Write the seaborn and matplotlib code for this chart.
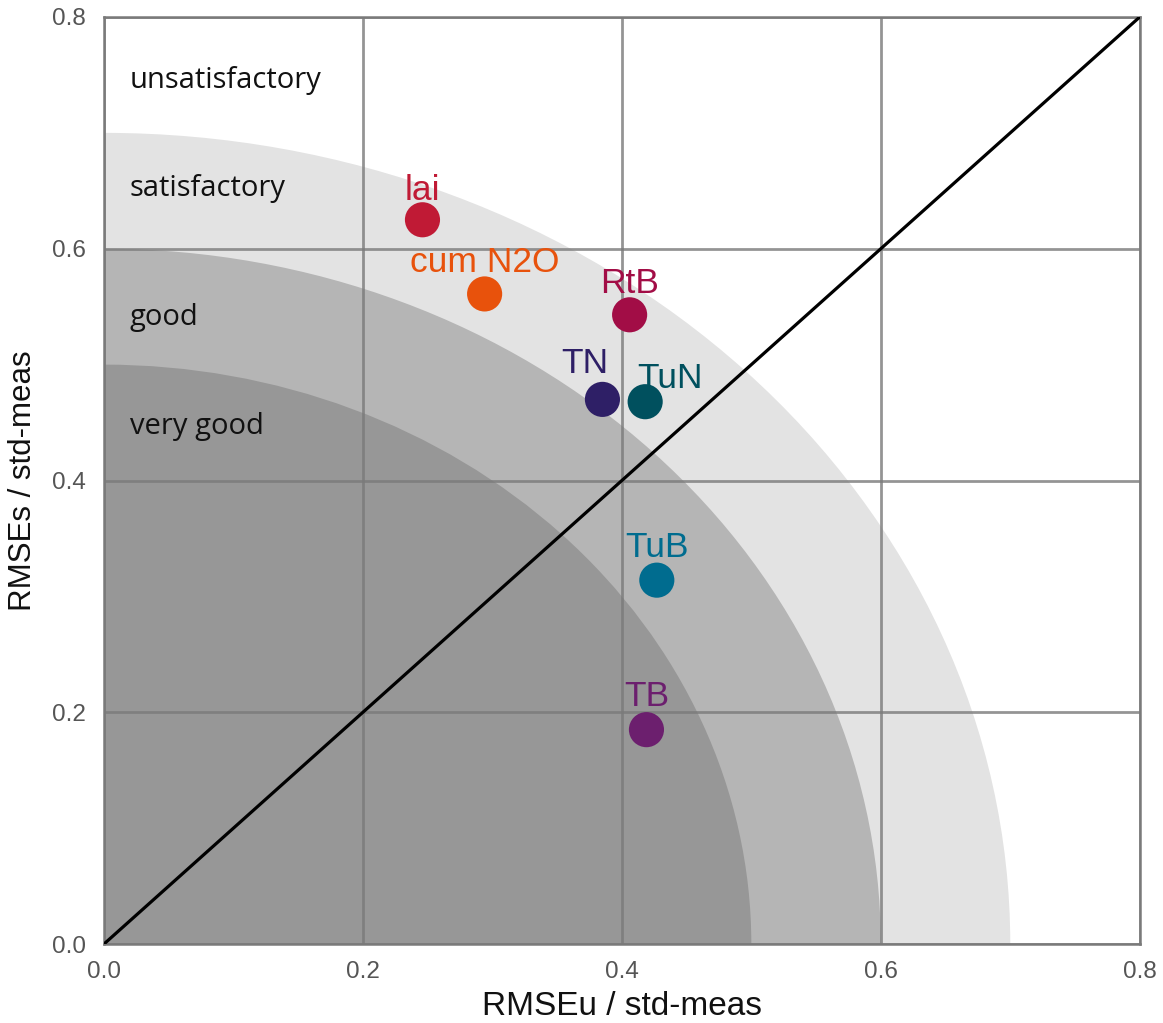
import matplotlib
matplotlib.use("Agg")
import matplotlib.pyplot as plt
from matplotlib.patches import Wedge
import pandas as pd
import seaborn as sns

# data
variables = ["lai", "cum N2O", "RtB", "TN", "TuN", "TuB", "TB"]
rmse_u = [0.246, 0.294, 0.406, 0.385, 0.418, 0.427, 0.419]
rmse_s = [0.625, 0.561, 0.543, 0.470, 0.468, 0.314, 0.185]
point_colors = ["#c01a35", "#e8520c", "#a20d46", "#2e1f66", "#00505e", "#006c8f", "#6c1f6e"]

zone_names = ["unsatisfactory", "satisfactory", "good", "very good"]
zone_radii = [0.7, 0.6, 0.5]
zone_colors = ["#e3e3e3", "#b5b5b5", "#979797"]
ticks = [0.0, 0.2, 0.4, 0.6, 0.8]

# label offsets in points (dx, dy)
label_offsets = [(0, 14), (0, 16), (0, 16), (-13, 19), (18, 10), (0, 17), (0, 17)]
zone_label_y = [0.745, 0.652, 0.541, 0.447]

df = pd.DataFrame({"var": variables, "u": rmse_u, "s": rmse_s})

sns.set_style("white")
plt.rcParams["font.family"] = ["Liberation Sans", "DejaVu Sans"]

fig = plt.figure(figsize=(11.63, 10.23), dpi=100)
ax = fig.add_axes([0.0894, 0.0772, 0.8906, 0.9062])

# performance zones (quarter circles)
for r, c in zip(zone_radii, zone_colors):
    ax.add_patch(Wedge((0, 0), r, 0, 90, facecolor=c, edgecolor="none", zorder=0.5))

for name, y in zip(zone_names, zone_label_y):
    ax.text(0.02, y, name, fontsize=21, family=["Open Sans", "DejaVu Sans"],
            color="#111111", va="center", ha="left", zorder=1)

# 1:1 line
ax.plot([0, 0.8], [0, 0.8], color="black", lw=2.3, zorder=3)

palette = dict(zip(variables, point_colors))
sns.scatterplot(data=df, x="u", y="s", hue="var", palette=palette, s=640,
                edgecolor="none", legend=False, ax=ax, zorder=4)

for v, x, y, c, off in zip(variables, rmse_u, rmse_s, point_colors, label_offsets):
    ax.annotate(v, (x, y), xytext=off, textcoords="offset points",
                ha="center", va="baseline", fontsize=25.5, color=c, zorder=5)

ax.set_xlim(0, 0.8)
ax.set_ylim(0, 0.8)
ax.set_xticks(ticks)
ax.set_yticks(ticks)
ax.set_xticklabels([f"{t:.1f}" for t in ticks])
ax.set_yticklabels([f"{t:.1f}" for t in ticks])
ax.tick_params(labelsize=17.5, colors="#555555", length=0)
ax.tick_params(axis="x", pad=12)
ax.tick_params(axis="y", pad=13)
ax.set_axisbelow(False)
ax.grid(True, color="#7a7a7a", lw=2, alpha=0.8)
for sp in ax.spines.values():
    sp.set_color("#7a7a7a")
    sp.set_linewidth(1.8)

ax.set_xlabel("RMSEu / std-meas", fontsize=24, color="#111111", labelpad=6)
ax.set_ylabel("RMSEs / std-meas", fontsize=22.5, color="#111111", labelpad=10)

fig.savefig("out.png", dpi=100)
